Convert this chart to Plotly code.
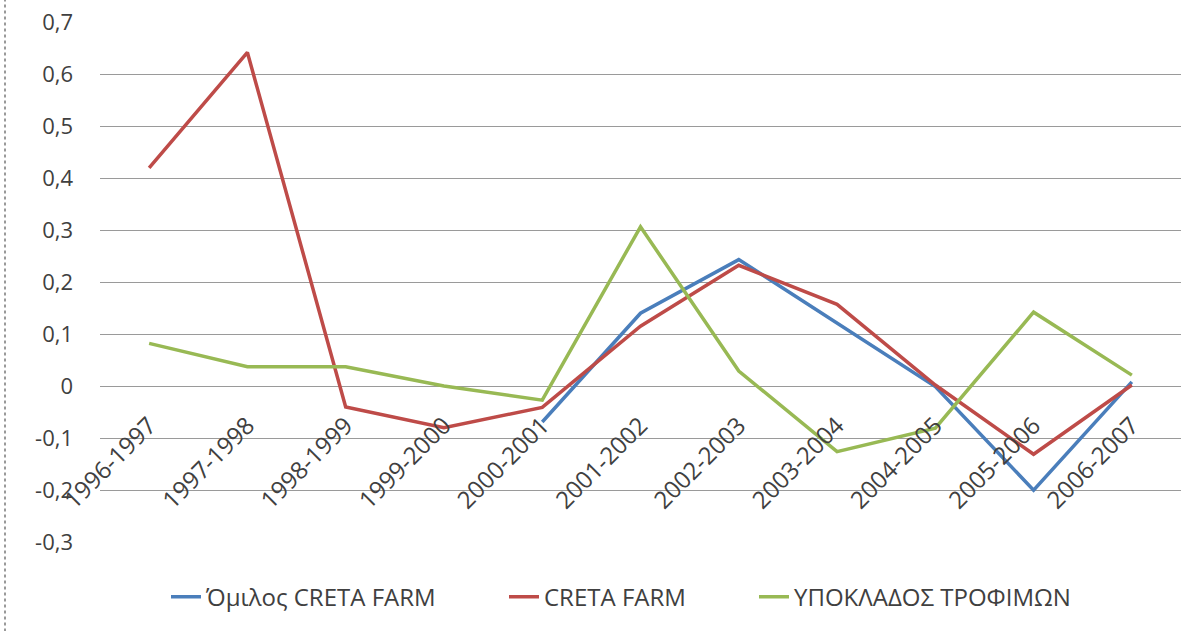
import plotly.graph_objects as go

categories = ["1996-1997", "1997-1998", "1998-1999", "1999-2000", "2000-2001", "2001-2002",
              "2002-2003", "2003-2004", "2004-2005", "2005-2006", "2006-2007"]
omilos = [None, None, None, None, -0.068, 0.141, 0.244, 0.122, 0.0, -0.199, 0.009]
creta = [0.42, 0.642, -0.039, -0.079, -0.04, 0.116, 0.233, 0.158, 0.003, -0.13, 0.003]
ypokl = [0.083, 0.038, 0.038, 0.001, -0.026, 0.307, 0.03, -0.125, -0.08, 0.143, 0.022]

ytick_vals = [0.7, 0.6, 0.5, 0.4, 0.3, 0.2, 0.1, 0.0, -0.1, -0.2, -0.3]
ytick_text = ["0,7", "0,6", "0,5", "0,4", "0,3", "0,2", "0,1", "0", "-0,1", "-0,2", "-0,3"]

names = ["Όμιλος CRETA FARM", "CRETA FARM", "ΥΠΟΚΛΑΔΟΣ ΤΡΟΦΙΜΩΝ"]
colors = ["#4A7EBB", "#BE4B48", "#98B954"]
legend_ids = ["legend", "legend2", "legend3"]

fig = go.Figure()
for vals, name, col, lg in zip([omilos, creta, ypokl], names, colors, legend_ids):
    fig.add_trace(go.Scatter(x=categories, y=vals, name=name, mode="lines", legend=lg,
                             line=dict(color=col, width=3.5), connectgaps=False))

font_main = "Open Sans, sans-serif"
W, H = 1202, 631
L, R, T, B = 100, 21, 22, 88
plot_w = W - L - R


def legend_at(px):
    return dict(orientation="h", x=(px - L) / plot_w, xanchor="left", y=-0.104,
                yanchor="middle", bgcolor="rgba(0,0,0,0)",
                font=dict(size=24, family=font_main, color="#404040"))


fig.update_layout(
    width=W, height=H,
    margin=dict(l=L, r=R, t=T, b=B, autoexpand=False),
    plot_bgcolor="white", paper_bgcolor="white",
    font=dict(family=font_main, color="#404040", size=20),
    showlegend=True,
    legend=legend_at(166),
    legend2=legend_at(504),
    legend3=legend_at(754),
    xaxis=dict(anchor="free", position=0.3, showgrid=False, showline=False, automargin=False,
               ticks="", tickangle=-45, ticklabelstandoff=19,
               tickfont=dict(size=24, family=font_main, color="#404040"),
               range=[-0.5, 10.5]),
    yaxis=dict(range=[-0.3005, 0.7005], tickvals=ytick_vals, ticktext=ytick_text, automargin=False,
               showgrid=True, gridcolor="#9a9a9a", gridwidth=1.3, zeroline=False,
               showline=False, ticks="", ticklabelstandoff=26,
               tickfont=dict(size=22, family=font_main, color="#404040")),
)
fig.add_shape(type="line", xref="paper", yref="paper", x0=(5 - L) / plot_w, x1=(5 - L) / plot_w,
              y0=-0.17, y1=1.05, line=dict(color="#999999", width=2, dash="dot"))
fig.write_html("out.html", config={"displayModeBar": False},
               post_script="document.body.style.margin='0';document.body.style.overflow='hidden';")
